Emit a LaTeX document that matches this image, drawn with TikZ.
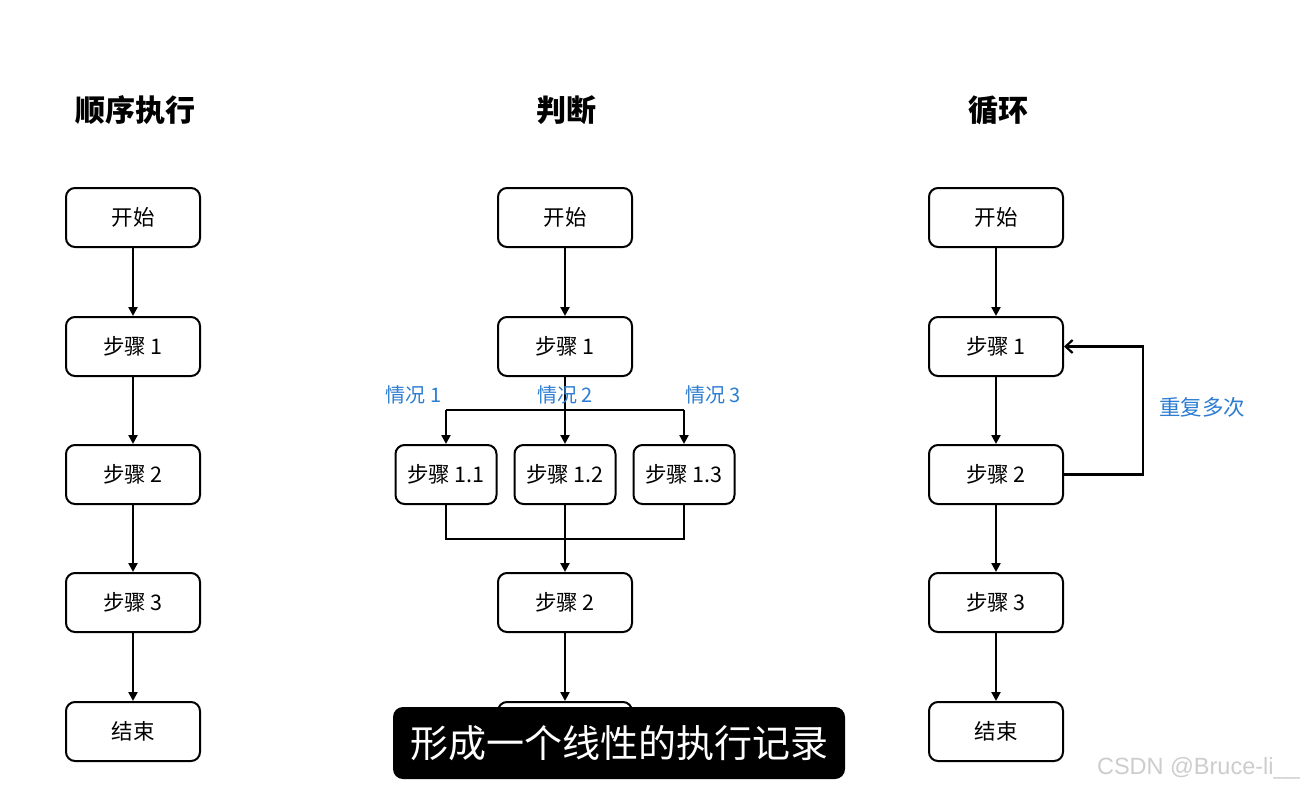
\documentclass[tikz,border=0pt]{standalone}
\usepackage{fontspec}
\setmainfont{Noto Sans CJK SC}
\newfontfamily\wmfont{Liberation Sans}
\usetikzlibrary{arrows.meta}
\definecolor{lblblue}{RGB}{45,125,210}
\definecolor{wmgray}{RGB}{205,205,205}
\begin{document}
\begin{tikzpicture}[x=1pt,y=-1pt,
  box/.style={draw=black,line width=2pt,rounded corners=9pt,minimum width=134pt,minimum height=59pt,inner sep=0pt,font=\fontsize{21.5}{24}\selectfont},
  sbox/.style={box,minimum width=101pt},
  ttl/.style={font=\fontsize{30}{35}\selectfont\bfseries},
  lbl/.style={text=lblblue,font=\fontsize{20}{23}\selectfont},
  conn/.style={line width=2.4pt,-{Triangle[length=9pt,width=9pt]}},
  plain/.style={line width=2.4pt},
  loopc/.style={line width=2.4pt,-{Straight Barb[length=7pt,width=13pt,line width=2.2pt]}}]
\useasboundingbox (0,0) rectangle (1306,789);
\fill[white] (0,0) rectangle (1306,789);
% titles
\node[ttl] (t1) at (135,110) {顺序执行};
\node[ttl] (t2) at (566,110) {判断};
\node[ttl] (t3) at (998,110) {循环};
% left column
\node[box] (a0) at (133,217.5) {开始};
\node[box] (a1) at (133,346.5) {步骤 1};
\node[box] (a2) at (133,474.5) {步骤 2};
\node[box] (a3) at (133,602.5) {步骤 3};
\node[box] (a4) at (133,731.5) {结束};
\draw[conn] (a0) -- (a1);
\draw[conn] (a1) -- (a2);
\draw[conn] (a2) -- (a3);
\draw[conn] (a3) -- (a4);
% middle column
\node[box] (b0) at (565,217.5) {开始};
\node[box] (b1) at (565,346.5) {步骤 1};
\node[sbox] (b11) at (446,474.5) {步骤 1.1};
\node[sbox] (b12) at (565,474.5) {步骤 1.2};
\node[sbox] (b13) at (684,474.5) {步骤 1.3};
\node[box] (b2) at (565,602.5) {步骤 2};
\node[box] (b3) at (565,731.5) {};
\coordinate (sp) at (565,410);
\coordinate (mg) at (565,539);
\draw[conn] (b0) -- (b1);
\draw[conn] (b1) -- (b12);
\draw[plain] (b11.north |- sp) -- (b13.north |- sp);
\draw[conn] (b11.north |- sp) -- (b11.north);
\draw[conn] (b13.north |- sp) -- (b13.north);
\draw[plain] (b11.south) -- (b11.south |- mg) -- (b13.south |- mg) -- (b13.south);
\draw[conn] (b12) -- (b2);
\draw[conn] (b2) -- (b3);
\node[lbl] (c1) at (413.5,395) {情况 1};
\node[lbl] (c2) at (565,395) {情况 2};
\node[lbl] (c3) at (713,395) {情况 3};
% right column
\node[box] (r0) at (996,217.5) {开始};
\node[box] (r1) at (996,346.5) {步骤 1};
\node[box] (r2) at (996,474.5) {步骤 2};
\node[box] (r3) at (996,602.5) {步骤 3};
\node[box] (r4) at (996,731.5) {结束};
\draw[conn] (r0) -- (r1);
\draw[conn] (r1) -- (r2);
\draw[conn] (r2) -- (r3);
\draw[conn] (r3) -- (r4);
\coordinate (lp) at (1143,410);
\draw[loopc] (r2.east) -- (r2.east -| lp) -- (r1.east -| lp) -- (r1.east);
\node[lbl,font=\fontsize{21.5}{24}\selectfont] (rep) at (1202,407) {重复多次};
% caption overlay
\node[fill=black,rounded corners=10pt,minimum width=452pt,minimum height=72pt,inner sep=0pt,text=white,font=\fontsize{38}{44}\selectfont] (cap) at (619,743) {形成一个线性的执行记录};
% watermark
\node[text=wmgray,font=\wmfont\fontsize{23.5}{27}\selectfont,anchor=east,inner sep=0pt] (wm) at (1300,768) {CSDN @Bruce-li\_\_};
\end{tikzpicture}
\end{document}
